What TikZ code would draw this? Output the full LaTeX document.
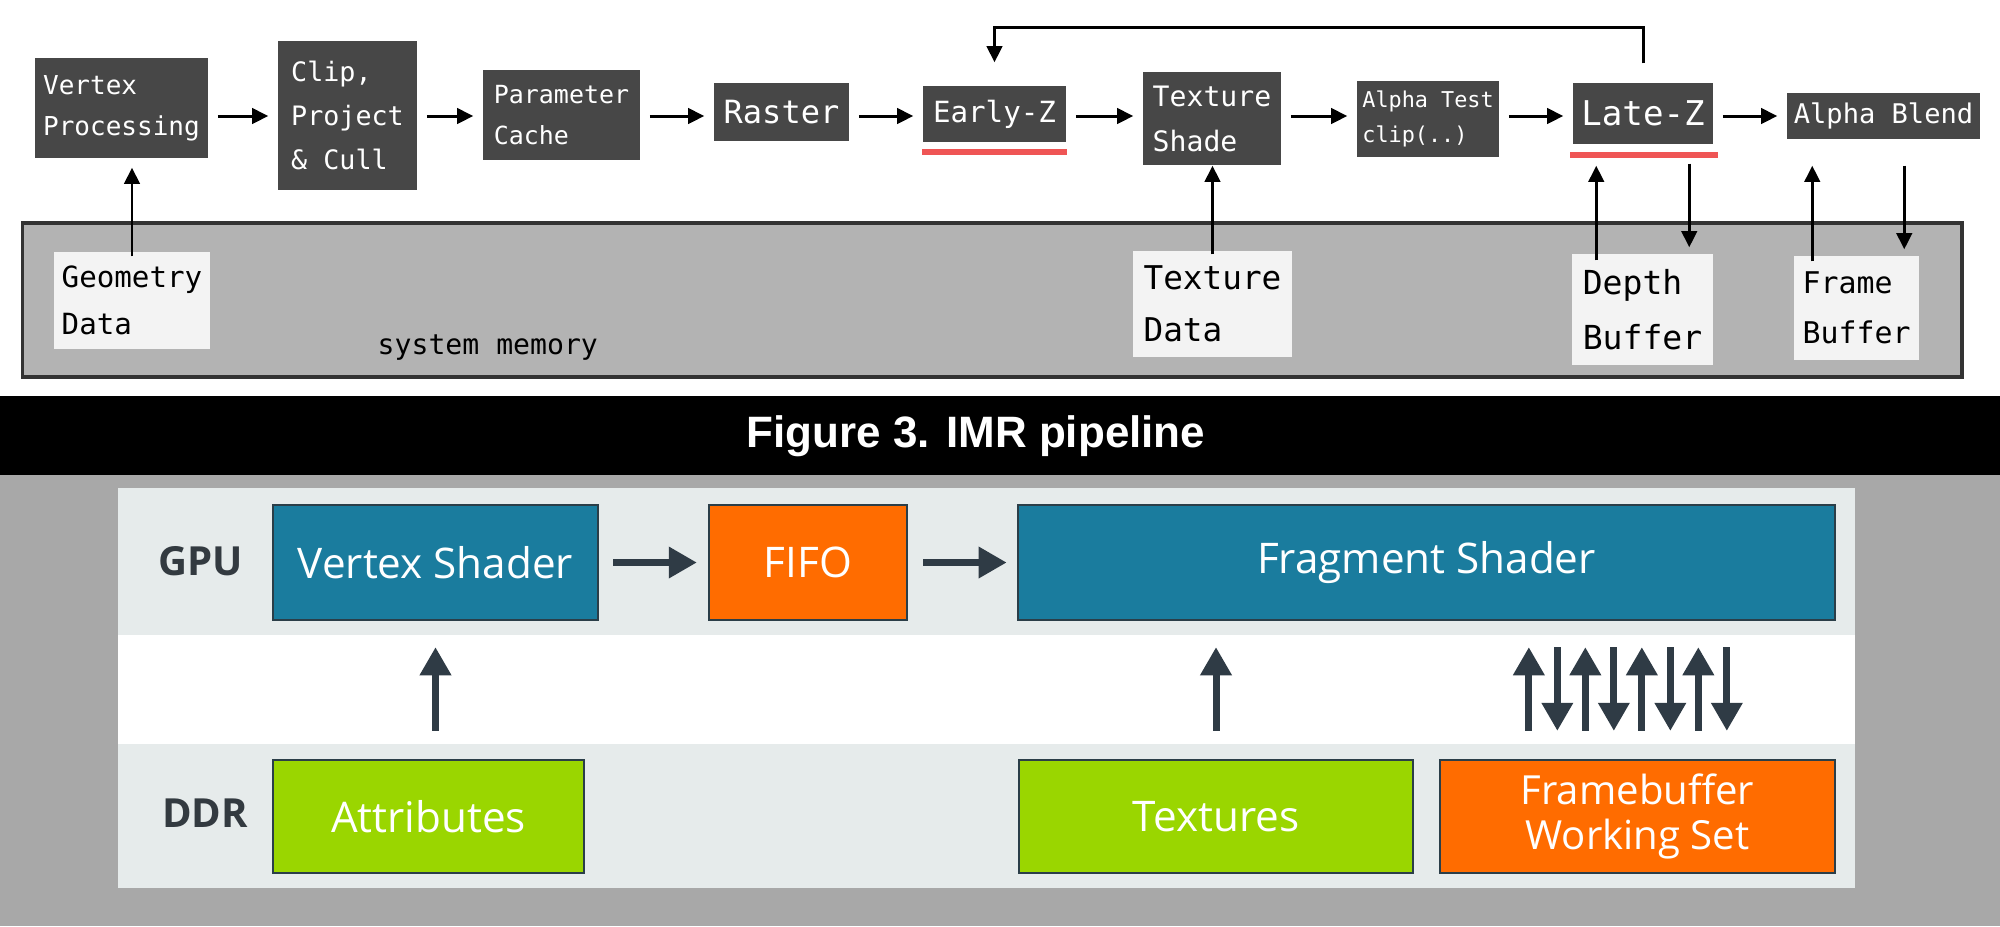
\documentclass[tikz,border=0pt]{standalone}
\usepackage{fontspec}
\usetikzlibrary{arrows.meta,calc}
\newfontfamily\monofont{DejaVu Sans Mono}
\newfontfamily\uifont{Open Sans}
\newfontfamily\capfont{Liberation Sans}
\newcommand{\mf}[2]{\monofont\fontsize{#1}{#2}\selectfont}
\newcommand{\uf}[2]{\uifont\fontsize{#1}{#2}\selectfont}
\definecolor{stagegrey}{HTML}{474747}
\definecolor{memgrey}{HTML}{B3B3B3}
\definecolor{memedge}{HTML}{333333}
\definecolor{datawhite}{HTML}{F3F3F3}
\definecolor{redline}{HTML}{EF5555}
\definecolor{shaderblue}{HTML}{1A7C9E}
\definecolor{fifoorange}{HTML}{FF6C00}
\definecolor{ddrgreen}{HTML}{9AD600}
\definecolor{bandgrey}{HTML}{E6EBEB}
\definecolor{bggrey}{HTML}{A8A8A8}
\definecolor{busdark}{HTML}{2F3B45}
\definecolor{unitedge}{HTML}{2B3E48}
\definecolor{labeldark}{HTML}{333A40}
\begin{document}
\begin{tikzpicture}[x=0.01cm,y=-0.01cm,
  stage/.style={fill=stagegrey,text=white,inner sep=0pt,align=left},
  store/.style={fill=datawhite,text=black,inner sep=0pt,align=left},
  flow/.style={line width=0.85pt,-{Triangle[width=4.4pt,length=4.6pt]}},
  unit/.style={draw=unitedge,line width=0.6pt,text=white,inner sep=0pt,align=center,minimum height=1.15cm},
  bus/.style={draw=busdark,line width=2pt,-{Triangle[width=8.5pt,length=8pt]},fill=busdark}]
\useasboundingbox (0,0) rectangle (2000,926);
\fill[white] (0,0) rectangle (2000,396);
\fill[black] (0,396) rectangle (2000,475);
\fill[bggrey] (0,475) rectangle (2000,926);
\fill[bandgrey] (118,488) rectangle (1855,635);
\fill[white] (118,635) rectangle (1855,744);
\fill[bandgrey] (118,744) rectangle (1855,888);
\coordinate (row) at (0,116);
\coordinate (loop) at (0,27);
\node[draw=memedge,fill=memgrey,line width=1.1pt,minimum width=19.38cm,minimum height=1.54cm] (mem) at (992,300) {};
\node[anchor=base west,inner sep=0pt,font=\mf{8pt}{10pt}] (memlabel) at (377,354) {system memory};
\node[stage,minimum width=1.73cm,minimum height=1cm,font=\mf{7.4pt}{11.7pt}] (vp) at (121.5,108) {Vertex\\Processing};
\node[stage,minimum width=1.39cm,minimum height=1.49cm,font=\mf{7.6pt}{12.5pt}] (clip) at (347.5,115.5) {Clip,\\Project\\\& Cull};
\node[stage,minimum width=1.57cm,minimum height=0.9cm,font=\mf{7.1pt}{11.7pt}] (param) at (561.5,115) {Parameter\\Cache};
\node[stage,minimum width=1.35cm,minimum height=0.58cm,font=\mf{9.1pt}{11pt}] (raster) at (781.5,112) {Raster};
\node[stage,minimum width=1.43cm,minimum height=0.56cm,font=\mf{8.3pt}{10pt}] (ez) at (994.5,114) {Early-Z};
\node[stage,minimum width=1.38cm,minimum height=0.93cm,font=\mf{8pt}{12.8pt}] (ts) at (1212,118.5) {Texture\\Shade};
\node[stage,minimum width=1.42cm,minimum height=0.76cm,font=\mf{6.2pt}{10pt}] (at) at (1428,119) {Alpha Test\\clip(..)};
\node[stage,minimum width=1.40cm,minimum height=0.61cm,font=\mf{9.7pt}{12pt}] (lz) at (1643,113.5) {Late-Z};
\node[stage,minimum width=1.93cm,minimum height=0.46cm,font=\mf{7.7pt}{10pt}] (ab) at (1883.5,116) {Alpha Blend};
\fill[redline] ($(ez.south west)+(0,6)$) rectangle ($(ez.south east)+(0,12)$);
\fill[redline] ($(lz.south west)+(-2,7)$) rectangle ($(lz.south east)+(4,13)$);
\node[store,minimum width=1.56cm,minimum height=0.97cm,font=\mf{8.3pt}{13.4pt}] (gd) at (132,300.5) {Geometry\\Data};
\node[store,minimum width=1.59cm,minimum height=1.06cm,font=\mf{9.3pt}{14.8pt}] (td) at (1212.5,304) {Texture\\Data};
\node[store,minimum width=1.41cm,minimum height=1.11cm,font=\mf{9.4pt}{15.6pt}] (db) at (1642.5,309.5) {Depth\\Buffer};
\node[store,minimum width=1.25cm,minimum height=1.04cm,font=\mf{8.5pt}{14.2pt}] (fb) at (1856.5,308) {Frame\\Buffer};
\foreach \a/\b in {vp/clip,clip/param,param/raster,raster/ez,ez/ts,ts/at,at/lz,lz/ab}
  \draw[flow,shorten <=0.09cm,shorten >=0.09cm] (\a.east |- row) -- (\b.west |- row);
\draw[flow,shorten <=0.19cm,shorten >=0.23cm] (lz.north) -- (lz.north |- loop) -| (ez.north);
\draw[flow,shorten <=-0.05cm,shorten >=0.09cm] (gd.north) -- (gd.north |- vp.south);
\draw[flow,shorten <=-0.04cm] (td.north) -- (td.north |- ts.south);
\coordinate (dbup) at ($(db.north west)+(25,0)$);
\coordinate (dbdn) at ($(db.north west)+(118,0)$);
\coordinate (fbup) at ($(fb.north west)+(19,0)$);
\coordinate (fbdn) at ($(fb.north west)+(111,0)$);
\draw[flow,shorten <=-0.07cm,shorten >=0.21cm] (dbup) -- (dbup |- lz.south);
\draw[flow,shorten <=0.19cm,shorten >=0.06cm] (dbdn |- lz.south) -- (dbdn);
\draw[flow,shorten <=-0.06cm,shorten >=0.26cm] (fbup) -- (fbup |- ab.south);
\draw[flow,shorten <=0.26cm,shorten >=0.06cm] (fbdn |- ab.south) -- (fbdn);
\node[font=\capfont\bfseries\fontsize{12.5pt}{15pt}\selectfont,text=white] (caption) at (976,436) {Figure 3. IMR pipeline};
\node[font=\uifont\bfseries\fontsize{11.4pt}{13pt}\selectfont,text=labeldark] (gpu) at (201,561) {GPU};
\node[font=\uifont\bfseries\fontsize{11.4pt}{13pt}\selectfont,text=labeldark] (ddr) at (205,813) {DDR};
\node[unit,fill=shaderblue,minimum width=3.25cm,font=\uf{12pt}{14pt}] (vs) at (435.5,562.5) {Vertex Shader};
\node[unit,fill=fifoorange,minimum width=1.98cm,font=\uf{12pt}{14pt}] (fifo) at (808,562.5) {FIFO};
\node[unit,fill=shaderblue,minimum width=8.17cm,font=\uf{12pt}{14pt}] (fs) at (1426.5,562.5) {Fragment Shader};
\node[unit,fill=ddrgreen,minimum width=3.11cm,minimum height=1.13cm,font=\uf{12pt}{14pt}] (attr) at (428.5,816.5) {Attributes};
\node[unit,fill=ddrgreen,minimum width=3.94cm,minimum height=1.13cm,font=\uf{12pt}{14pt}] (tex) at (1216,816.5) {Textures};
\node[unit,fill=fifoorange,minimum width=3.95cm,minimum height=1.13cm,font=\uf{11.4pt}{13pt}] (fws) at (1637.5,816.5) {Framebuffer\\Working Set};
\draw[bus,shorten <=0.14cm,shorten >=0.11cm] (vs.east) -- (fifo.west);
\draw[bus,shorten <=0.15cm,shorten >=0.10cm] (fifo.east) -- (fs.west);
\draw[bus,shorten <=0.28cm,shorten >=0.26cm] (vs.south |- attr.north) -- (vs.south);
\draw[bus,shorten <=0.28cm,shorten >=0.26cm] (tex.north) -- (tex.north |- fs.south);
\foreach \i in {0,...,3} {
  \coordinate (up\i) at ($(fws.north west)+({90+56.5*\i},0)$);
  \coordinate (dn\i) at ($(fws.north west)+({118.5+56.5*\i},0)$);
  \draw[bus,shorten <=0.28cm,shorten >=0.26cm] (up\i) -- (up\i |- fs.south);
  \draw[bus,shorten <=0.26cm,shorten >=0.28cm] (dn\i |- fs.south) -- (dn\i);
}
\end{tikzpicture}
\end{document}
